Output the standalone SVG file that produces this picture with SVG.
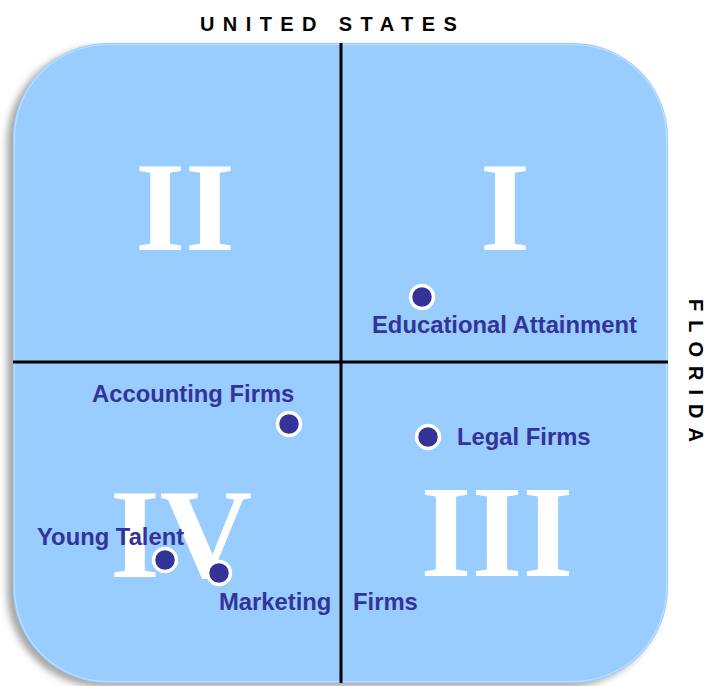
<svg xmlns="http://www.w3.org/2000/svg" width="712" height="686" viewBox="0 0 712 686">
<defs>
<filter id="shadow" x="-10%" y="-10%" width="120%" height="120%">
<feGaussianBlur in="SourceAlpha" stdDeviation="3.5"/>
<feOffset dx="-6" dy="4" result="b"/>
<feFlood flood-color="#808080" flood-opacity="0.7"/>
<feComposite in2="b" operator="in" result="s"/>
<feMerge><feMergeNode in="s"/><feMergeNode in="SourceGraphic"/></feMerge>
</filter>
</defs>
<style>
.roman{font-family:"Liberation Serif","Times New Roman",serif;font-weight:bold;fill:#ffffff;text-anchor:middle}
.lbl{font-family:"Liberation Sans",Arial,sans-serif;font-weight:bold;font-size:23.8px;fill:#333399}
.axis{font-family:"Liberation Sans",Arial,sans-serif;font-weight:bold;font-size:20px;fill:#000000}
.dot{fill:#333399;stroke:#ffffff;stroke-width:3.5}
.cross{stroke:#000000;stroke-width:3;fill:none}
</style>
<g id="board">
<rect x="13" y="43" width="655" height="640" rx="95" ry="95" fill="#99ccff" filter="url(#shadow)"/>
<rect x="14.5" y="44.5" width="652" height="637" rx="93.5" ry="93.5" fill="none" stroke="#cfe8ff" stroke-width="1.2" opacity="0.7"/>
</g>
<g id="quadrant-numerals">
<text class="roman" x="185" y="250" font-size="128">II</text>
<text class="roman" x="505" y="250" font-size="128">I</text>
<text class="roman" x="497" y="576" font-size="131">III</text>
<text class="roman" x="181" y="577" font-size="128">IV</text>
</g>
<g id="connectors">
<line class="cross" x1="341" y1="43" x2="341" y2="683"/>
<line class="cross" x1="13" y1="362" x2="668" y2="362"/>
</g>
<g id="axis-labels">
<text class="axis" x="200" y="31" letter-spacing="8.4">UNITED STATES</text>
<text class="axis" transform="translate(689,299) rotate(90)" x="0" y="0" letter-spacing="9">FLORIDA</text>
</g>
<g id="node-educational">
<circle class="dot" cx="422" cy="297" r="11.5"/>
<text class="lbl" x="372" y="333">Educational Attainment</text>
</g>
<g id="node-legal">
<circle class="dot" cx="428" cy="437" r="11.5"/>
<text class="lbl" x="457" y="445">Legal Firms</text>
</g>
<g id="node-accounting">
<circle class="dot" cx="289" cy="424" r="11.5"/>
<text class="lbl" x="92" y="402">Accounting Firms</text>
</g>
<g id="node-young-talent">
<circle class="dot" cx="165" cy="560" r="11.5"/>
<text class="lbl" x="37" y="545">Young Talent</text>
</g>
<g id="node-marketing">
<circle class="dot" cx="219" cy="573" r="11.5"/>
<text class="lbl" x="219" y="610">Marketing<tspan x="353">Firms</tspan></text>
</g>
</svg>
